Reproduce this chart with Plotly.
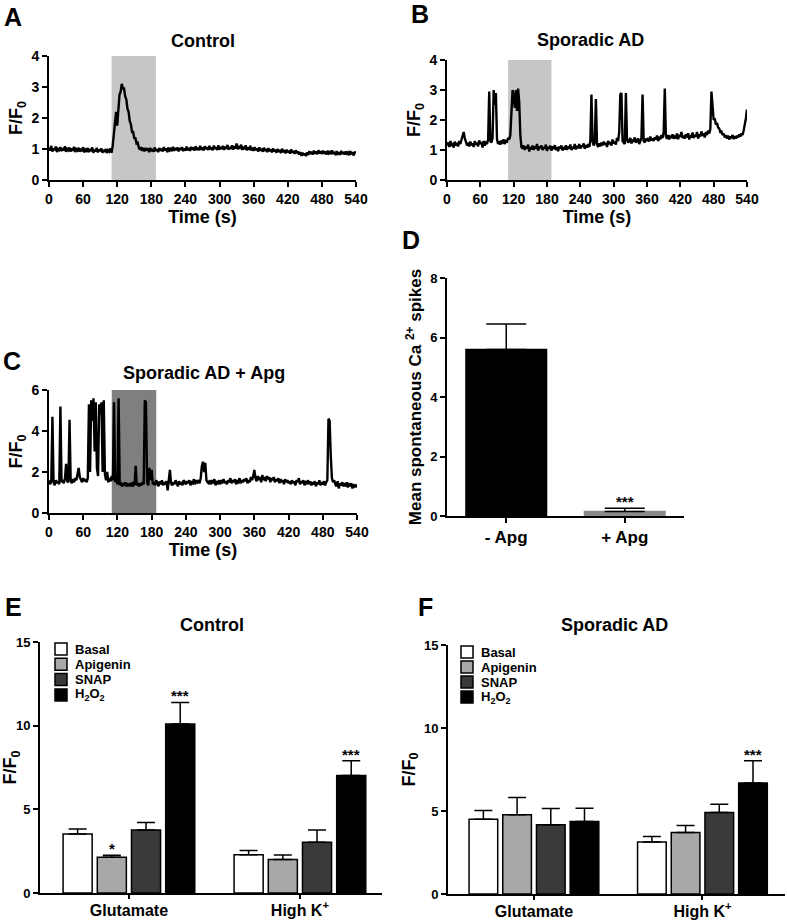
import plotly.graph_objects as go

W, H = 787, 921
FONT = "Arial, Liberation Sans, Helvetica, sans-serif"

# ---------------- data ----------------
sample_interval_s = 2          # traces sampled every 2 s, starting at t = 0
stim_window = [110, 188]       # stimulus period (s)

control_trace = [
    1.05,0.95,1.1,0.92,1.02,0.96,1.08,0.9,1.0,0.97,1.06,0.93,1.03,0.95,1.09,0.91,1.0,0.96,1.05,0.92,
    1.02,0.94,1.07,0.9,0.99,0.95,1.04,0.91,1.01,0.93,1.06,0.89,0.98,0.94,1.03,0.9,1.0,0.93,1.05,0.88,
    0.98,0.92,1.04,0.89,0.99,0.93,1.02,0.88,0.97,0.91,1.0,0.87,0.96,0.92,1.02,0.88,1.1,1.5,2.0,2.2,
    1.75,2.3,2.75,2.85,3.1,2.95,2.95,2.7,2.6,2.3,2.2,1.9,1.8,1.55,1.55,1.35,1.35,1.18,1.2,1.05,
    0.98,1.06,0.94,1.04,0.92,1.03,0.95,1.02,0.9,1.04,0.93,1.0,0.91,1.05,0.94,0.99,0.9,1.03,0.95,1.01,
    0.92,1.06,0.95,1.02,0.9,1.05,0.96,1.0,0.93,1.07,0.94,1.03,0.96,1.05,0.92,1.04,0.97,1.06,0.93,1.02,
    0.95,1.08,0.96,1.03,0.94,1.07,0.98,1.05,0.95,1.09,0.97,1.04,0.96,1.1,0.98,1.05,0.95,1.09,0.99,1.06,
    0.97,1.1,0.99,1.05,0.96,1.11,1.0,1.06,0.97,1.12,0.98,1.07,1.0,1.1,0.97,1.08,1.01,1.13,0.98,1.07,
    1.0,1.12,0.98,1.09,1.02,1.18,0.99,1.1,1.01,1.14,0.97,1.08,0.99,1.12,0.96,1.05,0.98,1.1,0.95,1.04,
    0.94,1.06,0.96,1.02,0.92,1.05,0.95,1.01,0.91,1.04,0.94,1.0,0.9,1.03,0.93,0.99,0.89,1.02,0.92,0.98,
    0.88,1.0,0.91,0.97,0.87,1.01,0.9,0.96,0.86,0.98,0.89,0.95,0.85,0.99,0.88,0.94,0.84,0.96,0.87,0.92,
    0.82,0.9,0.78,0.88,0.8,0.86,0.77,0.89,0.81,0.93,0.84,0.91,0.82,0.95,0.85,0.92,0.83,0.96,0.86,0.93,
    0.84,0.95,0.85,0.92,0.82,0.94,0.86,0.9,0.83,0.96,0.84,0.91,0.8,0.93,0.85,0.9,0.81,0.94,0.84,0.9,
    0.82,0.92,0.85,0.89,0.8,0.93,0.83,0.9,0.79,0.91,0.86,
]

sporadic_trace = [
    1.15,1.25,1.1,1.3,1.18,1.22,1.08,1.28,1.15,1.24,1.12,1.3,1.2,1.35,1.45,1.6,1.4,1.3,1.15,1.25,
    1.12,1.28,1.16,1.22,1.1,1.3,1.18,1.25,1.12,1.32,1.2,1.26,1.08,1.3,1.15,1.24,1.2,1.35,2.95,1.3,
    1.25,1.4,3.0,2.5,2.9,1.35,1.2,1.3,1.18,1.28,1.25,1.35,1.2,1.3,1.28,1.4,1.35,1.5,2.6,3.0,
    2.8,2.4,3.0,2.3,3.05,2.6,1.5,1.1,1.05,1.15,1.0,1.12,1.05,1.18,0.95,1.1,1.02,1.15,1.0,1.12,
    1.05,1.2,0.98,1.12,1.06,1.15,1.0,1.1,1.04,1.18,0.97,1.1,1.05,1.14,0.98,1.12,1.03,1.16,1.0,1.1,
    0.96,1.12,1.04,1.15,0.98,1.1,1.02,1.16,1.0,1.12,1.05,1.18,1.0,1.1,1.04,1.2,1.02,1.14,1.06,1.2,
    1.05,1.15,1.1,1.22,1.04,1.16,1.08,1.2,1.1,1.3,2.85,1.3,1.15,1.25,2.7,1.2,1.1,1.22,1.12,1.25,
    1.15,1.28,1.18,1.24,1.1,1.3,1.2,1.26,1.15,1.35,1.22,1.28,1.18,1.4,1.3,1.6,2.85,2.9,1.3,1.25,
    1.2,2.9,1.35,1.25,1.3,1.4,1.22,1.35,1.28,1.42,1.25,1.3,1.38,1.2,1.32,1.4,2.85,1.3,1.25,1.38,
    1.3,1.4,1.28,1.45,1.32,1.38,1.3,1.42,1.35,1.48,1.3,1.4,1.36,1.5,1.4,1.6,3.05,1.45,1.38,1.5,
    1.35,1.48,1.4,1.52,1.38,1.45,1.42,1.55,1.36,1.5,1.44,1.6,1.4,1.48,1.38,1.52,1.42,1.56,1.35,1.5,
    1.42,1.58,1.4,1.5,1.45,1.6,1.38,1.52,1.45,1.62,1.48,1.55,1.42,1.6,1.5,1.65,1.55,1.7,2.95,2.4,
    2.0,2.05,1.85,1.9,1.75,1.72,1.6,1.62,1.5,1.55,1.42,1.5,1.38,1.48,1.35,1.45,1.4,1.5,1.36,1.46,
    1.38,1.48,1.42,1.52,1.45,1.55,1.5,1.65,1.8,2.05,2.35,
]

sporadic_apg_trace = [
    1.6,1.4,1.55,4.7,1.5,1.35,1.6,1.45,1.55,1.4,5.2,1.5,1.6,1.45,1.7,2.4,1.55,1.5,4.55,1.6,
    1.45,1.65,1.5,1.7,1.6,1.9,2.2,1.75,1.6,1.5,1.7,1.55,1.65,1.5,1.7,5.3,2.0,5.5,4.5,5.6,
    3.0,5.4,2.2,1.8,5.3,4.8,5.4,2.0,5.5,1.9,1.6,2.0,1.5,1.7,1.55,1.8,1.6,5.4,1.5,1.8,
    1.4,5.6,1.35,1.5,1.3,1.45,1.35,1.5,1.3,1.4,1.35,1.45,1.3,1.5,1.35,1.4,2.3,1.35,1.45,1.3,
    1.45,1.35,1.5,1.4,5.5,5.4,1.5,1.35,2.2,1.6,2.1,1.4,1.5,1.35,1.6,1.45,1.3,1.55,1.4,1.6,
    1.35,1.5,1.4,1.55,1.1,1.6,2.1,1.45,1.35,1.5,1.4,1.6,1.45,1.3,1.55,1.4,1.5,1.35,1.6,1.45,
    1.4,1.55,1.45,1.6,1.35,1.5,1.45,1.65,1.4,1.55,1.5,1.6,1.45,1.7,2.3,2.5,2.0,2.45,1.6,1.5,
    1.45,1.6,1.4,1.55,1.5,1.65,1.35,1.5,1.45,1.6,1.4,1.55,1.5,1.65,1.45,1.55,1.4,1.6,1.5,1.7,
    1.45,1.6,1.5,1.65,1.4,1.55,1.5,1.7,1.45,1.6,1.5,1.65,1.55,1.7,1.45,1.6,1.5,1.75,1.6,1.8,
    2.1,1.7,1.55,1.8,1.6,1.75,1.5,1.85,1.6,1.75,1.55,1.8,1.65,1.75,1.5,1.7,1.6,1.75,1.5,1.65,
    1.55,1.7,1.45,1.65,1.5,1.6,1.4,1.65,1.5,1.6,1.45,1.55,1.4,1.6,1.45,1.55,1.35,1.6,1.5,1.7,
    1.4,1.55,1.45,1.6,1.35,1.5,1.45,1.6,1.4,1.55,1.35,1.5,1.4,1.55,1.3,1.5,1.4,1.6,1.35,1.5,
    1.4,1.55,1.35,1.5,1.6,4.6,4.5,2.8,1.7,1.5,1.6,1.4,1.3,1.55,1.2,1.45,1.35,1.5,1.3,1.45,
    1.3,1.5,1.25,1.4,1.35,1.45,1.2,1.4,1.3,1.35,1.25,
]

time_ticks = [0, 60, 120, 180, 240, 300, 360, 420, 480, 540]

# Panel D
spike_groups = ["- Apg", "+ Apg"]
spike_means = [5.6, 0.15]
spike_sem = [0.85, 0.11]
spike_sig = ["", "***"]
spike_colors = ["#000000", "#8a8a8a"]

# Panels E / F
stimuli = ["Glutamate", "High K<sup>+</sup>"]
treatments = ["Basal", "Apigenin", "SNAP", "H<sub>2</sub>O<sub>2</sub>"]
treatment_colors = ["#ffffff", "#a8a8a8", "#3a3a3a", "#000000"]

ctrl_basal = [3.52, 2.29]
ctrl_apigenin = [2.13, 2.00]
ctrl_snap = [3.76, 3.04]
ctrl_h2o2 = [10.10, 7.02]
ctrl_basal_sem = [0.30, 0.25]
ctrl_apigenin_sem = [0.12, 0.27]
ctrl_snap_sem = [0.45, 0.72]
ctrl_h2o2_sem = [1.29, 0.89]
ctrl_sig = [["", ""], ["*", ""], ["", ""], ["***", "***"]]

sad_basal = [4.51, 3.13]
sad_apigenin = [4.77, 3.71]
sad_snap = [4.17, 4.91]
sad_h2o2 = [4.37, 6.69]
sad_basal_sem = [0.52, 0.34]
sad_apigenin_sem = [1.04, 0.42]
sad_snap_sem = [0.98, 0.50]
sad_h2o2_sem = [0.80, 1.33]
sad_sig = [["", ""], ["", ""], ["", ""], ["", "***"]]

# ---------------- helpers ----------------
def px(x):
    return x / W

def py(y):
    return 1 - y / H

def dom_x(a, b):
    return [px(a), px(b)]

def dom_y(top, bottom):
    return [py(bottom), py(top)]

def font(size, color="black"):
    return dict(family=FONT, size=size, color=color, weight="bold")

def axis_style(tick_size=14, **kw):
    d = dict(showline=True, linecolor="black", linewidth=2, ticks="outside",
             ticklen=5, tickwidth=2, tickcolor="black", showgrid=False,
             zeroline=False, tickfont=font(tick_size), fixedrange=True,
             automargin=False)
    d.update(kw)
    return d

fig = go.Figure()
annotations = []
shapes = []

# ---------------- traces A, B, C ----------------
for trace_vals, ax in [(control_trace, ""), (sporadic_trace, "2"), (sporadic_apg_trace, "3")]:
    fig.add_trace(go.Scatter(y=trace_vals, x0=0, dx=sample_interval_s, mode="lines",
                             line=dict(color="black", width=2.4),
                             xaxis="x" + ax, yaxis="y" + ax, showlegend=False,
                             hoverinfo="skip"))

for ax, col in [("", "#c6c6c6"), ("2", "#c6c6c6"), ("3", "#7f7f7f")]:
    shapes.append(dict(type="rect", xref="x" + ax, yref=("y" + ax) + " domain",
                       x0=stim_window[0], x1=stim_window[1], y0=0, y1=1,
                       fillcolor=col, line=dict(width=0), layer="below"))

# ---------------- panel D ----------------
fig.add_trace(go.Bar(x=spike_groups, y=spike_means, width=0.68,
                     marker=dict(color=spike_colors, line=dict(color=spike_colors, width=1.5)),
                     error_y=dict(type="data", symmetric=False, array=spike_sem,
                                  arrayminus=[0] * len(spike_sem), color="black",
                                  thickness=1.5, width=20),
                     xaxis="x4", yaxis="y4", showlegend=False, hoverinfo="skip"))
for i, s in enumerate(spike_sig):
    if s:
        annotations.append(dict(x=i, y=spike_means[i] + spike_sem[i], xref="x4", yref="y4",
                                text=s, showarrow=False, yanchor="bottom", yshift=-4,
                                font=font(15)))

# ---------------- panels E, F ----------------
BARGAP = 0.2
ctrl_series = [(ctrl_basal, ctrl_basal_sem), (ctrl_apigenin, ctrl_apigenin_sem),
               (ctrl_snap, ctrl_snap_sem), (ctrl_h2o2, ctrl_h2o2_sem)]
sad_series = [(sad_basal, sad_basal_sem), (sad_apigenin, sad_apigenin_sem),
              (sad_snap, sad_snap_sem), (sad_h2o2, sad_h2o2_sem)]

for series, sigs, ax in [(ctrl_series, ctrl_sig, "5"), (sad_series, sad_sig, "6")]:
    n = len(series)
    for k, ((means, sems), name, colr) in enumerate(zip(series, treatments, treatment_colors)):
        fig.add_trace(go.Bar(x=stimuli, y=means, name=name,
                             marker=dict(color=colr, line=dict(color="black", width=1.5)),
                             error_y=dict(type="data", symmetric=False, array=sems,
                                          arrayminus=[0] * len(sems), color="black",
                                          thickness=1.5, width=9),
                             xaxis="x" + ax, yaxis="y" + ax, showlegend=False,
                             hoverinfo="skip"))
        offset = (k - (n - 1) / 2) * (1 - BARGAP) / n
        for j, s in enumerate(sigs[k]):
            if s:
                annotations.append(dict(x=j + offset, y=means[j] + sems[j],
                                        xref="x" + ax, yref="y" + ax, text=s,
                                        showarrow=False, yanchor="bottom", yshift=-4,
                                        font=font(15)))

# manual legends (compact rows like the original)
def add_legend(x_left, y_top, row_h, text_x):
    for k, (name, colr) in enumerate(zip(treatments, treatment_colors)):
        top = y_top + k * row_h
        shapes.append(dict(type="rect", xref="paper", yref="paper",
                           x0=px(x_left), x1=px(x_left + 12), y0=py(top + 12), y1=py(top),
                           fillcolor=colr, line=dict(color="black", width=1.5)))
        annotations.append(dict(x=px(text_x), y=py(top + 6), xref="paper", yref="paper",
                                text=name, showarrow=False, xanchor="left",
                                yanchor="middle", font=font(13)))

add_legend(55, 643, 15.3, 73)
add_legend(461, 646, 15.0, 479)

# ---------------- panel letters and titles ----------------
for letter, x, y in [("A", 13, 17), ("B", 420, 14), ("C", 12, 361),
                     ("D", 411, 240), ("E", 13, 607), ("F", 425, 607)]:
    annotations.append(dict(x=px(x), y=py(y), xref="paper", yref="paper", text=letter,
                            showarrow=False, xanchor="center", yanchor="middle",
                            font=font(25)))

for title, x, y in [("Control", 203, 41), ("Sporadic AD", 590, 40),
                    ("Sporadic AD + Apg", 204, 373), ("Control", 212, 625),
                    ("Sporadic AD", 614, 625)]:
    annotations.append(dict(x=px(x), y=py(y), xref="paper", yref="paper", text=title,
                            showarrow=False, xanchor="center", yanchor="middle",
                            font=font(18)))

ff0 = "F/F<sub>0</sub>"
time_title = dict(text="Time (s)", font=font(18), standoff=4)

fig.update_layout(
    width=W, height=H, autosize=False,
    margin=dict(l=0, r=0, t=0, b=0, autoexpand=False),
    paper_bgcolor="white", plot_bgcolor="white",
    barmode="group", bargap=BARGAP, bargroupgap=0.15,
    showlegend=False,
    annotations=annotations, shapes=shapes,
    xaxis=axis_style(domain=dom_x(49, 356), range=[0, 540], tickvals=time_ticks,
                     title=time_title, anchor="y"),
    yaxis=axis_style(domain=dom_y(56, 180), range=[0, 4], dtick=1, anchor="x",
                     title=dict(text=ff0, font=font(18), standoff=4)),
    xaxis2=axis_style(domain=dom_x(447, 747), range=[0, 540], tickvals=time_ticks,
                      title=time_title, anchor="y2"),
    yaxis2=axis_style(domain=dom_y(60, 180), range=[0, 4], dtick=1, anchor="x2",
                      title=dict(text=ff0, font=font(18), standoff=4)),
    xaxis3=axis_style(domain=dom_x(49, 357), range=[0, 540], tickvals=time_ticks,
                      title=time_title, anchor="y3"),
    yaxis3=axis_style(domain=dom_y(390, 513), range=[0, 6], dtick=2, anchor="x3",
                      title=dict(text=ff0, font=font(18), standoff=4)),
    xaxis4=axis_style(tick_size=17, domain=dom_x(447, 684), range=[-0.5, 1.5],
                      type="category", anchor="y4"),
    yaxis4=axis_style(tick_size=13, domain=dom_y(278, 516), range=[0, 8], dtick=2,
                      anchor="x4",
                      title=dict(text="Mean spontaneous Ca <sup>2+</sup> spikes",
                                 font=font(17), standoff=4)),
    xaxis5=axis_style(tick_size=16, domain=dom_x(40, 382), range=[-0.52, 1.48],
                      type="category", anchor="y5", ticklen=4, ticklabelstandoff=-2),
    yaxis5=axis_style(tick_size=13, domain=dom_y(642, 893), range=[0, 15], dtick=5,
                      anchor="x5", title=dict(text=ff0, font=font(18), standoff=4)),
    xaxis6=axis_style(tick_size=16, domain=dom_x(448, 785), range=[-0.51, 1.49],
                      type="category", anchor="y6", ticklen=4, ticklabelstandoff=-2),
    yaxis6=axis_style(tick_size=13, domain=dom_y(645, 894), range=[0, 15], dtick=5,
                      anchor="x6", title=dict(text=ff0, font=font(18), standoff=4)),
)

# remove the browser's default 8px page margin so the figure sits at the window origin
fig.write_html("out.html", config={"displayModeBar": False},
               post_script="document.body.style.margin='0';")
